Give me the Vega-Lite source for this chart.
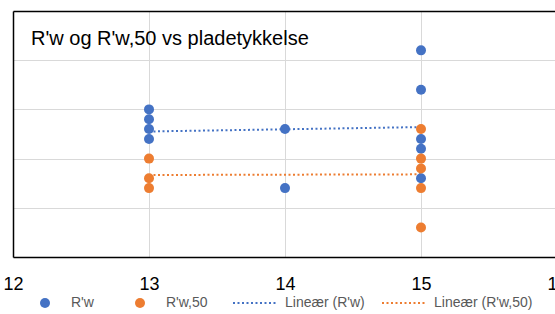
{
  "$schema": "https://vega.github.io/schema/vega-lite/v6.json",
  "width": 544,
  "height": 246,
  "autosize": {"type": "none"},
  "padding": {"left": 13, "top": 11, "right": 0, "bottom": 57},
  "background": "white",
  "config": {"view": {"stroke": null}, "font": "Liberation Sans"},
  "title": {
    "text": "R'w og R'w,50 vs pladetykkelse",
    "anchor": "start",
    "frame": "group",
    "orient": "top",
    "offset": -54,
    "dx": 18,
    "fontSize": 20,
    "fontWeight": "normal",
    "color": "black",
    "baseline": "alphabetic",
    "font": "Liberation Sans"
  },
  "data": {
    "values": [
      {"t": 13, "r": 55, "serie": "R'w"},
      {"t": 13, "r": 54, "serie": "R'w"},
      {"t": 13, "r": 53, "serie": "R'w"},
      {"t": 13, "r": 52, "serie": "R'w"},
      {"t": 14, "r": 53, "serie": "R'w"},
      {"t": 14, "r": 47, "serie": "R'w"},
      {"t": 15, "r": 61, "serie": "R'w"},
      {"t": 15, "r": 57, "serie": "R'w"},
      {"t": 15, "r": 52, "serie": "R'w"},
      {"t": 15, "r": 51, "serie": "R'w"},
      {"t": 15, "r": 48, "serie": "R'w"},
      {"t": 13, "r": 50, "serie": "R'w,50"},
      {"t": 13, "r": 48, "serie": "R'w,50"},
      {"t": 13, "r": 47, "serie": "R'w,50"},
      {"t": 15, "r": 53, "serie": "R'w,50"},
      {"t": 15, "r": 50, "serie": "R'w,50"},
      {"t": 15, "r": 49, "serie": "R'w,50"},
      {"t": 15, "r": 47, "serie": "R'w,50"},
      {"t": 15, "r": 43, "serie": "R'w,50"}
    ]
  },
  "encoding": {
    "x": {
      "field": "t",
      "type": "quantitative",
      "scale": {"domain": [12, 16], "nice": false, "zero": false},
      "axis": {
        "title": null,
        "values": [12, 13, 14, 15, 16],
        "grid": true,
        "gridColor": "#d9d9d9",
        "gridWidth": 1,
        "ticks": false,
        "domain": true,
        "domainColor": "black",
        "domainWidth": 1.5,
        "labelFontSize": 18,
        "labelColor": "black",
        "labelPadding": 18,
        "labelFlush": false,
        "labelOverlap": false,
        "labelFont": "Liberation Sans"
      }
    },
    "y": {
      "field": "r",
      "type": "quantitative",
      "scale": {"domain": [40, 65], "nice": false, "zero": false},
      "axis": {
        "title": null,
        "values": [40, 45, 50, 55, 60, 65],
        "grid": true,
        "gridColor": {"condition": {"test": "datum.value === 65", "value": "black"}, "value": "#d9d9d9"},
        "gridWidth": {"condition": {"test": "datum.value === 65", "value": 1.5}, "value": 1},
        "ticks": false,
        "labels": false,
        "domain": true,
        "domainColor": "black",
        "domainWidth": 1.5
      }
    }
  },
  "layer": [
    {
      "transform": [{"regression": "r", "on": "t", "groupby": ["serie"]}],
      "mark": {"type": "line", "strokeDash": [2, 2.5], "strokeWidth": 2},
      "encoding": {
        "color": {
          "field": "serie",
          "type": "nominal",
          "scale": {"domain": ["R'w", "R'w,50"], "range": ["#4472C4", "#ED7D31"]},
          "legend": {
            "orient": "none",
            "legendX": 219,
            "legendY": 269,
            "direction": "horizontal",
            "title": null,
            "padding": 0,
            "symbolType": "stroke",
            "symbolSize": 1936,
            "symbolDash": [2, 2.5],
            "symbolStrokeWidth": 2,
            "labelExpr": "'Lineær (' + datum.label + ')'",
            "labelFontSize": 14,
            "labelColor": "#595959",
            "labelFont": "Liberation Sans",
            "labelOffset": 7,
            "columnPadding": 13
          }
        }
      }
    },
    {
      "mark": {"type": "point", "filled": true, "size": 100, "opacity": 1},
      "encoding": {
        "color": {
          "field": "serie",
          "type": "nominal",
          "scale": {"domain": ["R'w", "R'w,50"], "range": ["#4472C4", "#ED7D31"]},
          "legend": {
            "orient": "none",
            "legendX": 25,
            "legendY": 285,
            "direction": "horizontal",
            "title": null,
            "padding": 0,
            "symbolType": "circle",
            "symbolSize": 100,
            "labelFontSize": 14,
            "labelColor": "#595959",
            "labelFont": "Liberation Sans",
            "labelOffset": 19,
            "columnPadding": 39
          }
        }
      }
    }
  ],
  "resolve": {"scale": {"color": "independent"}}
}
